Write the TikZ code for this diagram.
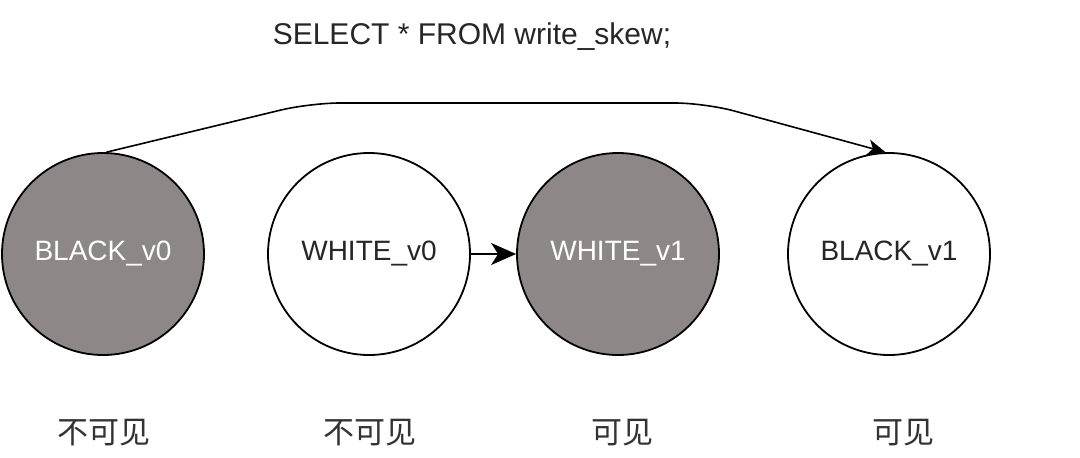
\documentclass[tikz,border=0pt]{standalone}
\usepackage{fontspec}
\setmainfont{Liberation Sans}
\newfontfamily\cjk{Noto Sans CJK SC}
\usetikzlibrary{arrows.meta}
\definecolor{vgrey}{RGB}{141,136,135}
\tikzset{
  ver/.style={circle, draw=black, line width=1.8pt, minimum size=202pt, inner sep=0pt, font=\fontsize{28}{30}\selectfont},
  dark/.style={ver, fill=vgrey, text=white},
  light/.style={ver, fill=white, text=black!85},
  vis/.style={font=\cjk\fontsize{31}{34}\selectfont, text=black!80},
  conn/.style={line width=1.6pt, -{Stealth[length=18pt,width=16pt,inset=5pt]}},
  shortconn/.style={line width=1.6pt, -{Stealth[length=25pt,width=22pt,inset=7pt]}},
}
\begin{document}
\begin{tikzpicture}[x=1pt,y=-1pt]
\useasboundingbox (0,0) rectangle (1080,458);
\node[font=\fontsize{30}{32}\selectfont, text=black!85] (title) at (472,37) {SELECT * FROM write\_skew;};
\node[dark]  (b0) at (103,254) {BLACK\_v0};
\node[light] (w0) at (369,254) {WHITE\_v0};
\node[dark]  (w1) at (618,254) {WHITE\_v1};
\node[light] (b1) at (889,254) {BLACK\_v1};
\node[vis] (l0) at (104,433) {不可见};
\node[vis] (l1) at (370,433) {不可见};
\node[vis] (l2) at (622,433) {可见};
\node[vis] (l3) at (903,433) {可见};
\coordinate (c1) at (310,103);
\coordinate (c2) at (705,103);
\draw[conn, rounded corners=30pt] (b0.88) -- (c1) -- (c2) -- (b1.92);
\draw[shortconn] (w0) -- (w1);
\end{tikzpicture}
\end{document}
